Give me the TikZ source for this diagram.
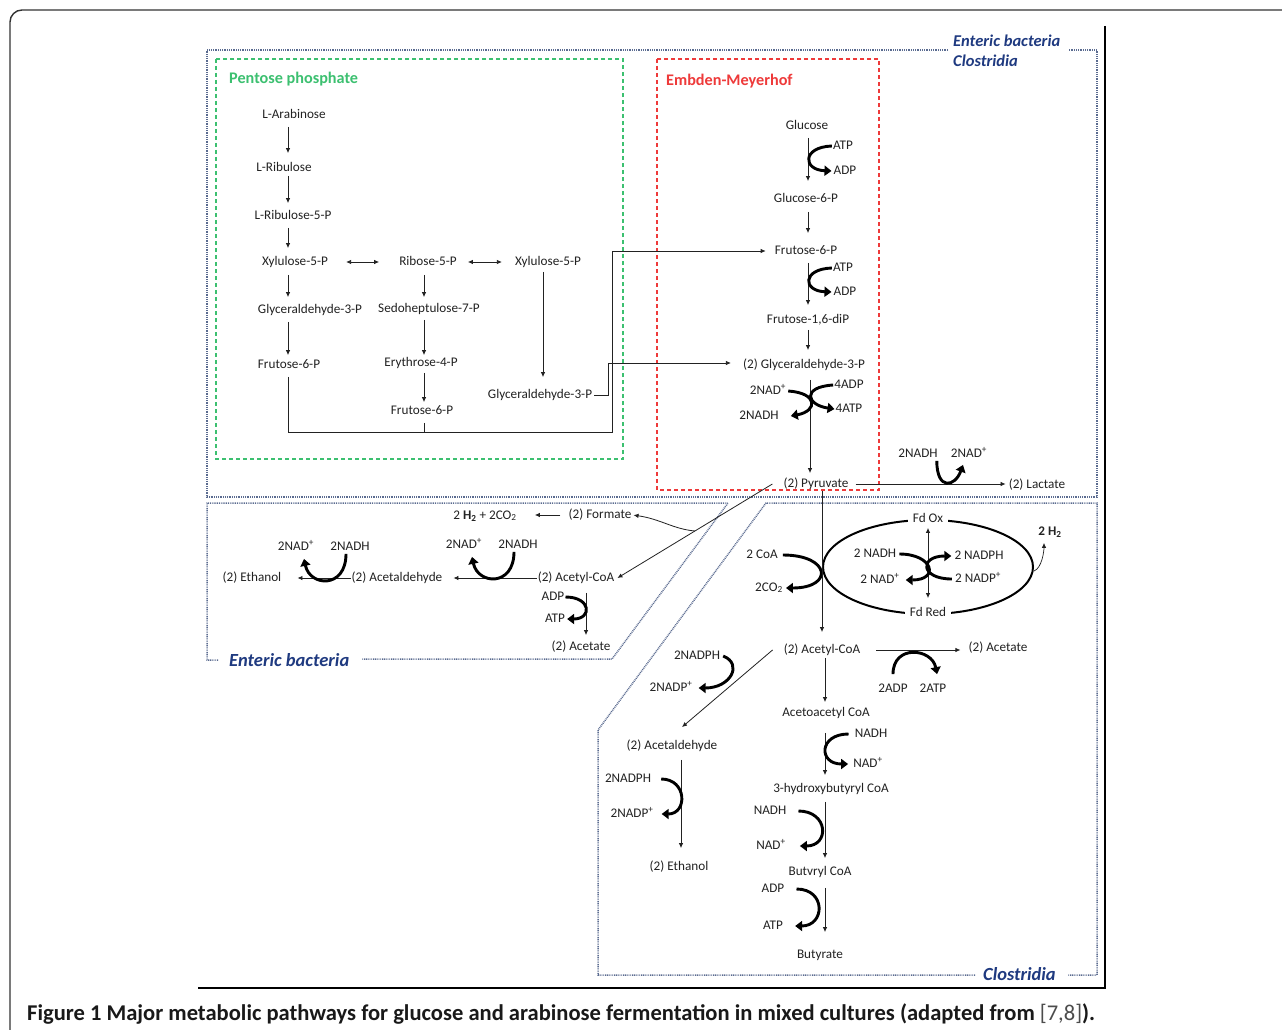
\documentclass[tikz,border=0pt]{standalone}
\usepackage{fontspec}
\setmainfont{Carlito}
\usetikzlibrary{arrows.meta,shapes.geometric,calc}
\definecolor{bfr}{HTML}{5A6B90}
\definecolor{blab}{HTML}{1F3A80}
\definecolor{gfr}{HTML}{3CC070}
\definecolor{rfr}{HTML}{EE3A3A}
\definecolor{txt}{HTML}{222222}
\begin{document}
\begin{tikzpicture}[x=1pt,y=-1pt,
  t/.style={font=\fontsize{13.2}{15}\selectfont, text=txt, inner sep=1pt, text height=8.8pt, text depth=2.6pt},
  tb/.style={t, font=\bfseries\fontsize{13.2}{15}\selectfont},
  arr/.style={line width=0.8pt, draw=txt, -{Latex[length=5pt,width=4.5pt]}},
  darr/.style={line width=0.8pt, draw=txt, {Latex[length=5pt,width=4.5pt]}-{Latex[length=5pt,width=4.5pt]}},
  ln/.style={line width=0.8pt, draw=txt},
  sh/.style 2 args={shorten <=#1pt, shorten >=#2pt},
  cof/.style={line width=2.9pt, -{Triangle[length=7pt,width=10pt]}},
  bframe/.style={draw=bfr, line width=1.5pt, dash pattern=on 0.9pt off 0.9pt},
  gbox/.style={draw=gfr, line width=1.5pt, dash pattern=on 4pt off 3pt},
  rbox/.style={draw=rfr, line width=1.5pt, dash pattern=on 4pt off 3pt},
  blabel/.style={text=blab, font=\bfseries\itshape\fontsize{16.5}{18}\selectfont, inner sep=0pt},
  blabelL/.style={text=blab, font=\bfseries\itshape\fontsize{18.5}{20}\selectfont, inner sep=0pt},
]
\useasboundingbox (0,0) rectangle (1282,1030);
\clip (0,0) rectangle (1282,1030);
\fill[white] (0,0) rectangle (1282,1030);

% outer frame and picture edges
\draw[line width=1.4pt, black!80, rounded corners=12pt] (10,1100) -- (10,10) -- (1350,10);
\draw[line width=1.6pt] (1105,26) -- (1105,988) -- (198,988);

% blue dotted regions
\draw[bframe] (948,50) -- (207,50) -- (207,497) -- (1097,497) -- (1097,50) -- (1068,50);
\node[blabel, anchor=west] (lEC) at (953,41) {Enteric bacteria};
\node[blabel, anchor=west] (lCl) at (953,61) {Clostridia};
\draw[bframe] (218,660) -- (207,660) -- (207,503) -- (728,503) -- (612,659) -- (362,659);
\node[blabelL, anchor=west] (lEn) at (229,660) {Enteric bacteria};
\draw[bframe] (975,975) -- (598,975) -- (598,730) -- (766,503) -- (1097,503) -- (1097,975) -- (1068,975);
\node[blabelL, anchor=west] (lCl2) at (983,974) {Clostridia};

% green and red boxes
\draw[gbox] (216,59) rectangle (623,459);
\node[anchor=west, text=gfr, font=\bfseries\fontsize{16.2}{18}\selectfont, inner sep=0pt] (lPP) at (229,79) {Pentose phosphate};
\draw[rbox] (657,59) rectangle (879,490);
\node[anchor=west, text=rfr, font=\bfseries\fontsize{16.2}{18}\selectfont, inner sep=0pt] (lEM) at (666,81) {Embden-Meyerhof};

% column coordinates
\coordinate (c288) at (288,0);
\coordinate (c424) at (424,0);
\coordinate (c543) at (543,0);
\coordinate (c808) at (808,0);
\coordinate (c810) at (810,0);
\coordinate (c822) at (822,0);
\coordinate (c825) at (825,0);
\coordinate (c681) at (681,0);
\coordinate (c586) at (586,0);
\coordinate (j1) at (612,432);
\coordinate (j2) at (608,363);

% Pentose phosphate nodes
\node[t] (ara) at (294,115) {L-Arabinose};
\node[t] (rib) at (284,168) {L-Ribulose};
\node[t] (rib5) at (293,216) {L-Ribulose-5-P};
\node[t] (xyl1) at (295,262) {Xylulose-5-P};
\node[t] (ribo) at (428,262) {Ribose-5-P};
\node[t] (xyl2) at (548,262) {Xylulose-5-P};
\node[t] (gly1) at (310,310) {Glyceraldehyde-3-P};
\node[t] (sed) at (429,309) {Sedoheptulose-7-P};
\node[t] (fru1) at (289,365) {Frutose-6-P};
\node[t] (ery) at (421,363) {Erythrose-4-P};
\node[t] (fru2) at (422,411) {Frutose-6-P};
\node[t] (gly2) at (540,395) {Glyceraldehyde-3-P};

\draw[arr, sh={5}{8}] (ara.south -| c288) -- (rib.north -| c288);
\draw[arr, sh={1}{6}] (rib.south -| c288) -- (rib5.north -| c288);
\draw[arr, sh={5}{7}] (rib5.south -| c288) -- (xyl1.north -| c288);
\draw[arr, sh={6}{6}] (xyl1.south -| c288) -- (gly1.north -| c288);
\draw[arr, sh={5}{3}] (gly1.south -| c288) -- (fru1.north -| c288);
\draw[arr, sh={6}{5}] (ribo.south -| c424) -- (sed.north -| c424);
\draw[arr, sh={4}{1}] (sed.south -| c424) -- (ery.north -| c424);
\draw[arr, sh={3}{2}] (ery.south -| c424) -- (fru2.north -| c424);
\draw[arr, sh={3}{11}] (xyl2.south -| c543) -- (gly2.north -| c543);
\draw[darr, sh={17}{19}] (xyl1.east) -- (ribo.west);
\draw[darr, sh={10}{12}] (ribo.east) -- (xyl2.west);

% connections to glycolysis
\draw[ln, shorten <=5pt] (fru2.south -| c424) -- (c424 |- j1);
% EM nodes
\node[t] (glc) at (807,126) {Glucose};
\node[t] (g6p) at (806,199) {Glucose-6-P};
\node[t] (f6p) at (806,251) {Frutose-6-P};
\node[t] (fdp) at (808,320) {Frutose-1,6-diP};
\node[t] (g3p) at (804,365) {(2) Glyceraldehyde-3-P};
\node[t] (pyr) at (816,484) {(2) Pyruvate};
\node[t] (lac) at (1037,485) {(2) Lactate};

\draw[arr, sh={5}{8}] (fru1.south -| c288) -- (c288 |- j1) -- (j1) -- (j1 |- f6p) -- (f6p.west);
\draw[arr, sh={1}{11}] (gly2.east) -- (gly2.east -| j2) -- (j2) -- (j2 -| g3p.west);

\draw[arr, sh={5}{11}] (glc.south -| c808) -- (g6p.north -| c808);
\draw[arr, sh={6}{11}] (g6p.south -| c808) -- (f6p.north -| c808);
\draw[arr, sh={5}{8}] (f6p.south -| c808) -- (fdp.north -| c808);
\draw[arr, sh={3}{8}] (fdp.south -| c808) -- (g3p.north -| c808);
\draw[arr, sh={8}{4}] (g3p.south -| c810) -- (pyr.north -| c810);
\draw[arr, sh={6}{2}] (pyr.east) -- (pyr.east -| lac.west);

% cofactors EM
\node[t] (atpA) at (843,146) {ATP};
\node[t] (adpA) at (845,171) {ADP};
\draw[cof, sh={0}{1}] (atpA.west) .. controls +(-30,1) and +(-30,-1) .. (adpA.west);
\node[t] (atpB) at (843,268) {ATP};
\node[t] (adpB) at (845,292) {ADP};
\draw[cof, sh={0}{1}] (atpB.west) .. controls +(-30,1) and +(-30,-1) .. (adpB.west);
\node[t] (nadA) at (768,391) {2NAD\textsuperscript{+}};
\node[t] (nadhA) at (759,416) {2NADH};
\node[t] (adpC) at (849,385) {4ADP};
\node[t] (atpC) at (849,409) {4ATP};
\draw[cof] ([xshift=1pt]nadA.east) .. controls +(30,2) and +(27,-5) .. ([xshift=11pt]nadhA.east);
\draw[cof, sh={0}{0}] (adpC.west) .. controls +(-32,2) and +(-28,-4) .. (atpC.west);
\node[t] (nadhB) at (918,454) {2NADH};
\node[t] (nadB) at (969,454) {2NAD\textsuperscript{+}};
\draw[cof] ([xshift=-2pt]nadhB.south east) .. controls +(0,30) and +(-8,22) .. ([xshift=-6pt,yshift=-4pt]nadB.south);

% Enteric bacteria
\node[t] (frm) at (600,515) {(2) Formate};
\node[t] (h2co2) at (485,516) {2 \textbf{H\textsubscript{2}} + 2CO\textsubscript{2}};
\node[t] (ace) at (576,578) {(2) Acetyl-CoA};
\node[t] (ald1) at (397,578) {(2) Acetaldehyde};
\node[t] (eth1) at (252,578) {(2) Ethanol};
\node[t] (act1) at (581,647) {(2) Acetate};
\draw[arr, sh={7}{17}] (frm.west) -- (frm.west -| h2co2.east);
\draw[arr] ([xshift=-10pt]pyr.west) -- ([xshift=2pt]ace.east);
\coordinate (fj) at ($([xshift=-10pt]pyr.west)!0.5!([xshift=2pt]ace.east)$);
\draw[arr, shorten >=1pt] (fj) .. controls +(-22,-2) and +(28,4) .. (frm.east);
\draw[arr, sh={0}{10}] (ace.west) -- (ace.west -| ald1.east);
\draw[arr, sh={0}{15}] (ald1.west) -- (ald1.west -| eth1.east);
\draw[arr, sh={8}{5}] (ace.south -| c586) -- (act1.north -| c586);
\node[t] (nadC) at (464,545) {2NAD\textsuperscript{+}};
\node[t] (nadhC) at (518,545) {2NADH};
\draw[cof] ([xshift=-4pt]nadhC.south) .. controls +(0,35) and +(6,28) .. ([xshift=8pt,yshift=-5pt]nadC.south);
\node[t] (nadD) at (296,547) {2NAD\textsuperscript{+}};
\node[t] (nadhD) at (350,547) {2NADH};
\draw[cof] ([xshift=-4pt]nadhD.south) .. controls +(0,35) and +(6,28) .. ([xshift=8pt,yshift=-5pt]nadD.south);
\node[t] (adpE) at (553,597) {ADP};
\node[t] (atpE) at (555,619) {ATP};
\draw[cof, sh={0}{1}] (adpE.east) .. controls +(26,0) and +(26,0) .. (atpE.east);

% Clostridia
\node[draw, ellipse, line width=2pt, minimum width=210pt, minimum height=94pt, inner sep=0pt] (ell) at (928,567) {};
\node[t, fill=white, inner xsep=5pt] (fdox) at (928,519) {Fd Ox};
\node[t, fill=white, inner xsep=5pt] (fdred) at (928,613) {Fd Red};
\draw[darr, sh={2}{8}] (fdox.south) -- (fdred.north);
\node[tb] (h2) at (1050,532) {2 H\textsubscript{2}};
\draw[arr, line width=0.7pt, shorten >=0pt] ([yshift=-4pt]ell.east) .. controls +(8,-3) and +(0,8) .. ([xshift=-6pt,yshift=-4pt]h2.south);
\node[t] (coa) at (762,555) {2 CoA};
\node[t] (co2) at (769,588) {2CO\textsubscript{2}};
\draw[cof] ([xshift=4pt]coa.east) .. controls +(48,0) and +(48,0) .. ([xshift=2pt]co2.east);
\node[t] (nadhE) at (875,554) {2 NADH};
\node[t] (nadphE) at (979,556) {2 NADPH};
\node[t] (nadE) at (880,580) {2 NAD\textsuperscript{+}};
\node[t] (nadpE) at (978,579) {2 NADP\textsuperscript{+}};
\draw[cof] ([xshift=2pt]nadhE.east) .. controls +(34,0) and +(34,0) .. ([xshift=5pt]nadE.east);
\draw[cof] ([xshift=-2pt]nadpE.west) .. controls +(-32,0) and +(-32,0) .. ([xshift=-2pt]nadphE.west);

\node[t] (acc) at (822,650) {(2) Acetyl-CoA};
\draw[arr, sh={0}{11}] (pyr.south -| c822) -- (acc.north -| c822);
\node[t] (ac2) at (998,648) {(2) Acetate};
\draw[arr, sh={15}{7}] (acc.east) -- (acc.east -| ac2.west);
\node[t] (adpF) at (893,689) {2ADP};
\node[t] (atpF) at (933,689) {2ATP};
\draw[cof] ([yshift=8pt]adpF.north) .. controls +(0,-30) and +(-5,-26) .. ([xshift=4pt,yshift=8pt]atpF.north);

\node[t] (aac) at (826,713) {Acetoacetyl CoA};
\node[t] (hb) at (831,789) {3-hydroxybutyryl CoA};
\node[t] (bcoa) at (820,872) {Butvryl CoA};
\node[t] (but) at (820,955) {Butyrate};
\draw[arr, sh={1}{4}] (acc.south -| c825) -- (aac.north -| c825);
\draw[arr, sh={13}{7}] (aac.south -| c825) -- (hb.north -| c825);
\draw[arr, sh={6}{7}] (hb.south -| c825) -- (bcoa.north -| c825);
\draw[arr, sh={9}{16}] (bcoa.south -| c825) -- (but.north -| c825);
\node[t] (nadhG) at (871,734) {NADH};
\node[t] (nadG) at (868,764) {NAD\textsuperscript{+}};
\draw[cof] ([xshift=-5pt]nadhG.west) .. controls +(-30,0) and +(-30,0) .. ([xshift=-4pt]nadG.west);
\node[t] (nadhH) at (770,811) {NADH};
\node[t] (nadH) at (771,846) {NAD\textsuperscript{+}};
\draw[cof] ([xshift=11pt]nadhH.east) .. controls +(30,0) and +(30,0) .. ([xshift=13pt]nadH.east);
\node[t] (adpI) at (773,889) {ADP};
\node[t] (atpI) at (773,926) {ATP};
\draw[cof] ([xshift=11pt]adpI.east) .. controls +(30,0) and +(30,0) .. ([xshift=11pt]atpI.east);

\node[t] (ald2) at (672,746) {(2) Acetaldehyde};
\node[t] (eth2) at (679,867) {(2) Ethanol};
\draw[arr] ([xshift=-10pt]acc.west) -- ([xshift=10pt,yshift=12pt]ald2.north);
\draw[arr, sh={7}{12}] (ald2.south -| c681) -- (eth2.north -| c681);
\node[t] (nadphJ) at (697,656) {2NADPH};
\node[t] (nadpJ) at (671,688) {2NADP\textsuperscript{+}};
\draw[cof] ([xshift=2pt]nadphJ.east) .. controls +(20,8) and +(32,0) .. ([xshift=5pt]nadpJ.east);
\node[t] (nadphK) at (628,779) {2NADPH};
\node[t] (nadpK) at (632,814) {2NADP\textsuperscript{+}};
\draw[cof] ([xshift=9pt]nadphK.east) .. controls +(26,0) and +(26,0) .. ([xshift=7pt]nadpK.east);

% caption
\node[anchor=west, inner sep=0pt] (cap) at (27,1014) {\resizebox{1068pt}{!}{\fontsize{21}{24}\selectfont\bfseries\color{black!90}Figure 1 Major metabolic pathways for glucose and arabinose fermentation in mixed cultures (adapted from {\mdseries\color{black!70}[7,8]}).}};
\end{tikzpicture}
\end{document}
